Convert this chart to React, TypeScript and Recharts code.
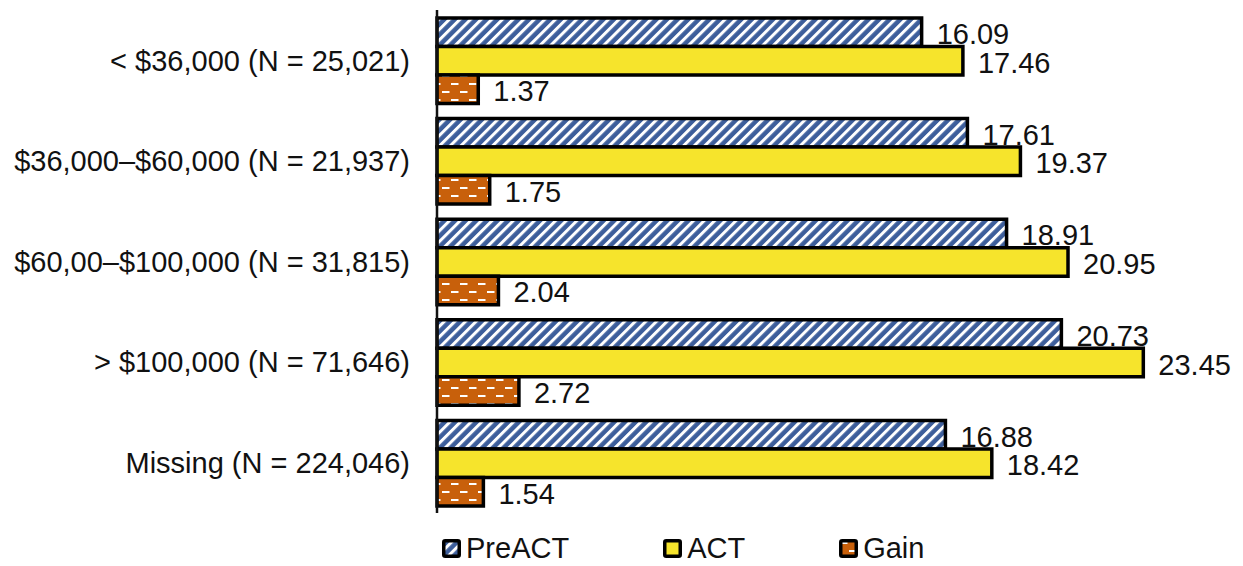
import { Bar, BarChart, LabelList, Legend, XAxis, YAxis } from "recharts";

const incomeGroups = [
  "< $36,000 (N = 25,021)",
  "$36,000–$60,000 (N = 21,937)",
  "$60,00–$100,000 (N = 31,815)",
  "> $100,000 (N = 71,646)",
  "Missing (N = 224,046)",
];
const preActScores = [16.09, 17.61, 18.91, 20.73, 16.88];
const actScores = [17.46, 19.37, 20.95, 23.45, 18.42];
const gainScores = [1.37, 1.75, 2.04, 2.72, 1.54];

const chartData = incomeGroups.map((name, i) => ({
  name,
  preact: preActScores[i],
  act: actScores[i],
  gain: gainScores[i],
}));

const FONT = "'Liberation Sans', Arial, sans-serif";
const FONT_SIZE = 29;
const BLUE = "#3d5e9b";
const YELLOW = "#f6e42c";
const ORANGE = "#c8600b";

const series = [
  { key: "preact", label: "PreACT", fill: "url(#stripes)" },
  { key: "act", label: "ACT", fill: YELLOW },
  { key: "gain", label: "Gain", fill: "url(#dashes)" },
];

function ValueLabel(props: any) {
  const { x, y, width, height, value } = props;
  return (
    <text
      x={x + width + 15}
      y={y + height / 2 + 12}
      fontSize={FONT_SIZE}
      fontFamily={FONT}
      fill="#111"
    >
      {Number(value).toFixed(2)}
    </text>
  );
}

function LegendBox() {
  return (
    <div style={{ height: 53, paddingLeft: 442, boxSizing: "border-box", display: "flex", alignItems: "flex-end" }}>
      {series.map((s) => (
        <div key={s.key} style={{ display: "flex", alignItems: "center", marginRight: 94, height: 36 }}>
          <svg width={19} height={19} style={{ marginRight: 5 }}>
            <rect x={1.75} y={1.75} width={15.5} height={15.5} fill={s.fill} stroke="#000" strokeWidth={3.5} rx={1.5} />
          </svg>
          <span style={{ fontFamily: FONT, fontSize: FONT_SIZE, color: "#111", lineHeight: "36px" }}>{s.label}</span>
        </div>
      ))}
    </div>
  );
}

export default function App() {
  return (
    <div style={{ position: "absolute", left: 0, top: 0, background: "#fff" }}>
      <BarChart
        width={1243}
        height={566}
        data={chartData}
        layout="vertical"
        margin={{ top: 10, right: 53, bottom: 0, left: 0 }}
        barSize={28.5}
        barGap={0}
      >
        <defs>
          <pattern id="stripes" width={7.5} height={7.5} patternUnits="userSpaceOnUse" patternTransform="rotate(45)">
            <rect width={7.5} height={7.5} fill={BLUE} />
            <rect width={3} height={7.5} fill="#fff" />
          </pattern>
          <pattern id="dashes" width={18} height={16} patternUnits="userSpaceOnUse">
            <rect width={18} height={16} fill={ORANGE} />
            <rect x={1} y={3} width={7.5} height={2} fill="#fff" />
            <rect x={10} y={11} width={7.5} height={2} fill="#fff" />
          </pattern>
        </defs>
        <XAxis type="number" domain={[0, 25]} hide />
        <YAxis
          type="category"
          dataKey="name"
          width={437}
          tickSize={0}
          tickMargin={27}
          axisLine={{ stroke: "#111", strokeWidth: 2.5 }}
          tickLine={false}
          tick={{ fontSize: FONT_SIZE, fontFamily: FONT, fill: "#111" }}
        />
        <Legend verticalAlign="bottom" content={() => <LegendBox />} />
        {series.map((s) => (
          <Bar
            key={s.key}
            dataKey={s.key}
            name={s.label}
            fill={s.fill}
            stroke="#000"
            strokeWidth={3.5}
            isAnimationActive={false}
          >
            <LabelList dataKey={s.key} content={ValueLabel} />
          </Bar>
        ))}
      </BarChart>
    </div>
  );
}
